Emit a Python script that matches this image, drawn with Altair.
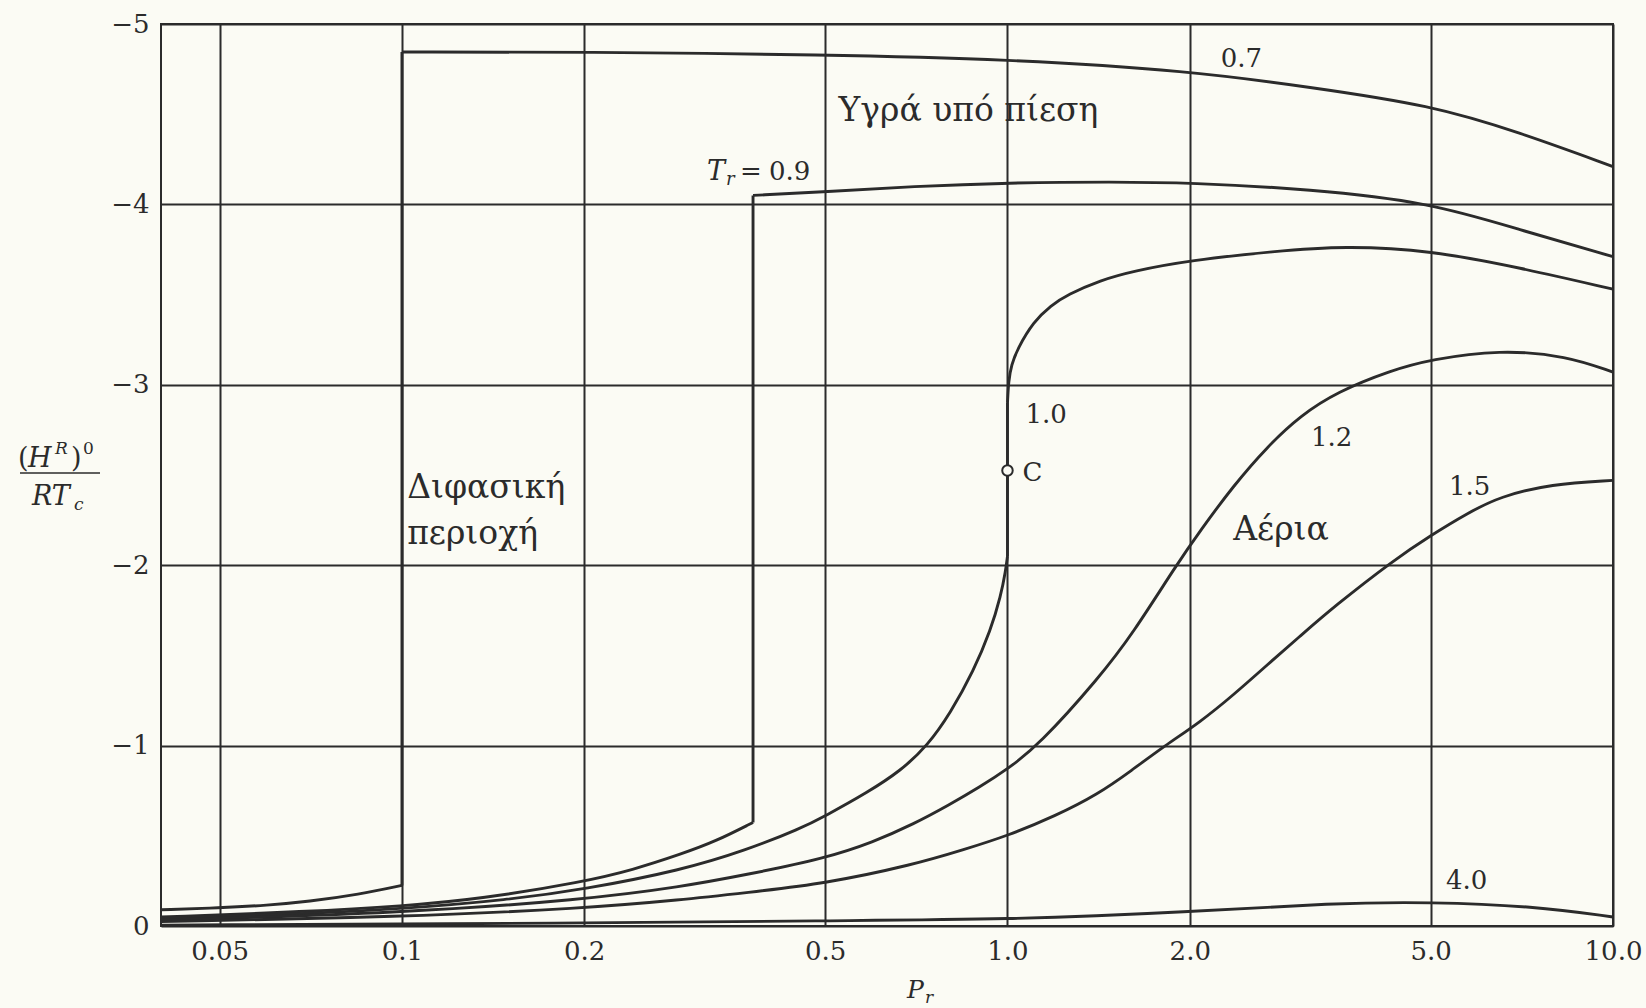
import altair as alt
import pandas as pd

# Residual enthalpy (H^R)^0 / RTc against reduced pressure Pr, one curve per Tr.
# Gas branches, liquid branches and the critical isotherm's two halves are listed
# separately; the vertical phase-change jumps join the end of one to the start of the next.

tr07_gas_p = [0.04, 0.05, 0.06, 0.07, 0.085, 0.1]
tr07_gas_h = [-0.09, -0.10, -0.115, -0.135, -0.175, -0.225]
tr07_liq_p = [0.1, 0.2, 0.5, 1.0, 2.0, 3.16, 5.0, 7.0, 10.0]
tr07_liq_h = [-4.845, -4.845, -4.83, -4.805, -4.74, -4.65, -4.55, -4.40, -4.21]

tr09_gas_p = [0.04, 0.07, 0.1, 0.135, 0.2, 0.24, 0.29, 0.33, 0.38]
tr09_gas_h = [-0.05, -0.08, -0.11, -0.15, -0.246, -0.31, -0.40, -0.47, -0.574]
tr09_liq_p = [0.38, 0.5, 0.7, 1.0, 1.5, 2.0, 3.16, 5.0, 7.0, 10.0]
tr09_liq_h = [-4.05, -4.07, -4.10, -4.12, -4.125, -4.12, -4.085, -4.01, -3.86, -3.71]

tr10_low_p = [0.04, 0.07, 0.1, 0.15, 0.2, 0.29, 0.37, 0.455, 0.5, 0.587, 0.666,
              0.738, 0.805, 0.879, 0.938, 0.975, 0.993, 1.0]
tr10_low_h = [-0.042, -0.068, -0.095, -0.145, -0.203, -0.31, -0.42, -0.54, -0.61,
              -0.74, -0.86, -1.0, -1.18, -1.414, -1.64, -1.83, -1.97, -2.05]
tr10_up_p = [1.0, 1.004, 1.015, 1.039, 1.104, 1.18, 1.256, 1.425, 1.61, 2.0, 2.76,
             3.6, 5.0, 7.0, 10.0]
tr10_up_h = [-2.9, -3.02, -3.11, -3.20, -3.35, -3.44, -3.50, -3.58, -3.63, -3.69,
             -3.74, -3.77, -3.745, -3.65, -3.53]

tr12_p = [0.04, 0.1, 0.2, 0.29, 0.37, 0.5, 0.6, 0.7, 0.8, 0.9, 1.0, 1.125, 1.42,
          1.61, 1.90, 2.08, 2.36, 2.69, 3.05, 3.5, 4.3, 5.0, 6.5, 8.4, 10.0]
tr12_h = [-0.032, -0.072, -0.146, -0.218, -0.284, -0.375, -0.465, -0.565, -0.67,
          -0.77, -0.87, -1.0, -1.38, -1.62, -2.0, -2.19, -2.44, -2.66, -2.83, -2.96,
          -3.08, -3.14, -3.195, -3.16, -3.07]

tr15_p = [0.04, 0.1, 0.2, 0.29, 0.37, 0.5, 0.7, 0.85, 1.0, 1.2, 1.41, 1.6, 1.82,
          2.08, 2.36, 2.69, 3.05, 3.46, 4.35, 5.0, 5.76, 6.5, 7.9, 10.0]
tr15_h = [-0.024, -0.05, -0.098, -0.145, -0.185, -0.235, -0.34, -0.425, -0.50,
          -0.61, -0.73, -0.86, -1.0, -1.13, -1.28, -1.45, -1.61, -1.77, -2.03,
          -2.165, -2.29, -2.38, -2.45, -2.47]

tr40_p = [0.04, 0.2, 0.5, 1.0, 2.0, 3.46, 5.0, 7.4, 10.0]
tr40_h = [-0.005, -0.015, -0.03, -0.035, -0.078, -0.128, -0.133, -0.11, -0.05]

critical_p = [1.0]
critical_h = [-2.525]

x_ticks = [0.05, 0.1, 0.2, 0.5, 1.0, 2.0, 5.0, 10.0]
x_tick_labels = ["0.05", "0.1", "0.2", "0.5", "1.0", "2.0", "5.0", "10.0"]
y_ticks = [0, -1, -2, -3, -4, -5]

INK = "#2b2b2b"
PAPER = "#fbfbf4"
FONT = "DejaVu Serif"

rows = []


def add_segment(name, ps, hs, kind):
    for i, (p, h) in enumerate(zip(ps, hs)):
        rows.append({"seg": name, "kind": kind, "P": p, "H": h, "i": i})


add_segment("0.7 gas", tr07_gas_p, tr07_gas_h, "curve")
add_segment("0.7 jump", [tr07_gas_p[-1], tr07_liq_p[0]], [tr07_gas_h[-1], tr07_liq_h[0]], "jump")
add_segment("0.7 liquid", tr07_liq_p, tr07_liq_h, "curve")
add_segment("0.9 gas", tr09_gas_p, tr09_gas_h, "curve")
add_segment("0.9 jump", [tr09_gas_p[-1], tr09_liq_p[0]], [tr09_gas_h[-1], tr09_liq_h[0]], "jump")
add_segment("0.9 liquid", tr09_liq_p, tr09_liq_h, "curve")
add_segment("1.0 low", tr10_low_p, tr10_low_h, "curve")
add_segment("1.0 mid", [tr10_low_p[-1], tr10_up_p[0]], [tr10_low_h[-1], tr10_up_h[0]], "jump")
add_segment("1.0 up", tr10_up_p, tr10_up_h, "curve")
add_segment("1.2", tr12_p, tr12_h, "curve")
add_segment("1.5", tr15_p, tr15_h, "curve")
add_segment("4.0", tr40_p, tr40_h, "curve")
curves = pd.DataFrame(rows)

label_expr = " : ".join(
    f"datum.value == {v} ? '{t}'" for v, t in zip(x_ticks, x_tick_labels)
) + " : ''"

x_enc = alt.X(
    "P:Q",
    scale=alt.Scale(type="log", domain=[0.04, 10.0], nice=False),
    axis=alt.Axis(
        values=x_ticks, labelExpr=label_expr, title=None, grid=True, gridColor=INK,
        gridWidth=2, gridOpacity=1, domain=False, ticks=False, labelFont=FONT,
        labelFontSize=26, labelColor=INK, labelPadding=12, labelFlush=False,
        labelOverlap=False,
    ),
)
y_enc = alt.Y(
    "H:Q",
    scale=alt.Scale(domain=[0, -5], nice=False, zero=False),
    axis=alt.Axis(
        values=y_ticks, format="d", title=None, grid=True, gridColor=INK,
        gridWidth=2, gridOpacity=1, domain=False, ticks=False, labelFont=FONT,
        labelFontSize=26, labelColor=INK, labelPadding=12, labelFlush=False,
        labelOverlap=False,
    ),
)

# Smooth branches drawn as B-splines through the read-off points; jumps are straight.
smooth = alt.Chart(curves).transform_filter(alt.datum.kind == "curve").mark_line(
    interpolate="basis", color=INK, strokeWidth=2.9
).encode(x=x_enc, y=y_enc, detail="seg:N", order="i:Q")

jumps = alt.Chart(curves).transform_filter(alt.datum.kind == "jump").mark_line(
    color=INK, strokeWidth=2.9
).encode(x="P:Q", y="H:Q", detail="seg:N", order="i:Q")

crit = alt.Chart(pd.DataFrame({"P": critical_p, "H": critical_h})).mark_point(
    shape="circle", filled=True, fill=PAPER, stroke=INK, strokeWidth=2, size=110,
    opacity=1,
).encode(x="P:Q", y="H:Q")


def note(text, p, h, size=26, style="normal", dx=0, dy=0):
    return alt.Chart(pd.DataFrame({"t": [text]})).mark_text(
        align="left", baseline="alphabetic", font=FONT, fontSize=size,
        fontStyle=style, color=INK, dx=dx, dy=dy,
    ).encode(x=alt.datum(p), y=alt.datum(h), text="t:N")


def piece(text, x, y, size=26, style="normal"):
    return alt.Chart(pd.DataFrame({"t": [text]})).mark_text(
        align="left", baseline="alphabetic", font=FONT, fontSize=size,
        fontStyle=style, color=INK,
    ).encode(x=alt.value(x), y=alt.value(y), text="t:N")


notes = [
    note("0.7", 2.25, -4.76),
    note("T", 0.319, -4.134, size=27, style="italic"),
    note("r", 0.319, -4.134, size=18, style="italic", dx=19, dy=5),
    note("=", 0.319, -4.134, dx=33),
    note("0.9", 0.319, -4.134, dx=62),
    note("1.0", 1.071, -2.786),
    note("C", 1.059, -2.466),
    note("1.2", 3.17, -2.66),
    note("1.5", 5.36, -2.39),
    note("4.0", 5.3, -0.203),
    note("Υγρά υπό πίεση", 0.526, -4.46, size=33),
    note("Διφασική", 0.102, -2.37, size=33),
    note("περιοχή", 0.102, -2.12, size=33),
    note("Αέρια", 2.36, -2.14, size=33),
]

# Axis titles: P_r below, and the fraction (H^R)^0 / RT_c on the left
titles = [
    piece("P", 746, 974, size=25, style="italic"),
    piece("r", 764, 979, size=17, style="italic"),
    piece("(", -143, 443, size=27),
    piece("H", -133, 443, size=27, style="italic"),
    piece("R", -106, 430, size=17, style="italic"),
    piece(")", -90, 443, size=27),
    piece("0", -78, 430, size=17),
    piece("RT", -129, 481, size=27, style="italic"),
    piece("c", -87, 486, size=17, style="italic"),
]
bar = alt.Chart(pd.DataFrame({"t": [0]})).mark_rule(color=INK, strokeWidth=1.6).encode(
    x=alt.value(-141), x2=alt.value(-61), y=alt.value(449)
)

chart = alt.layer(smooth, jumps, crit, bar, *notes, *titles).properties(
    width=1452, height=902,
    autosize=alt.AutoSizeParams(type="none"),
    padding={"left": 161, "top": 24, "right": 33, "bottom": 82},
    background=PAPER,
).configure_view(stroke=INK, strokeWidth=2)

chart.save("out.html", embed_options={"renderer": "svg", "actions": False})
